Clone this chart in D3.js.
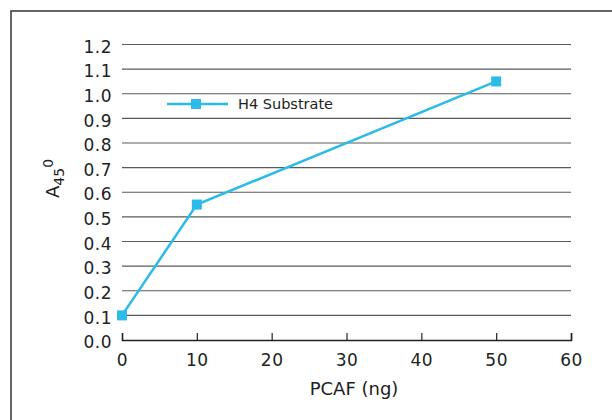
<!DOCTYPE html>
<html>
<head>
<meta charset="utf-8">
<script src="https://cdn.jsdelivr.net/npm/d3@7"></script>
<style>
  html, body { margin: 0; padding: 0; background: #fff; }
  svg { display: block; }
  text { font-family: "DejaVu Sans", "Liberation Sans", Arial, sans-serif; fill: #222; }
</style>
</head>
<body>
<svg id="chart" width="612" height="420"></svg>
<script>
const xValues = [0, 10, 50];
const yValues = [0.10, 0.55, 1.05];
const seriesName = "H4 Substrate";
const xTicks = [0, 10, 20, 30, 40, 50, 60];
const yTicks = [0.0, 0.1, 0.2, 0.3, 0.4, 0.5, 0.6, 0.7, 0.8, 0.9, 1.0, 1.1, 1.2];
const xTitle = "PCAF (ng)";

const svg = d3.select("#chart");
const color = "#2bbbe8";

// frame
svg.append("rect").attr("x", 11).attr("y", 11).attr("width", 700).attr("height", 500)
  .attr("fill", "none").attr("stroke", "#333").attr("stroke-width", 1.5);

const x = d3.scaleLinear().domain([0, 60]).range([122, 571]);
const y = d3.scaleLinear().domain([0, 1.2]).range([340, 44.5]);

// gridlines
svg.append("g").selectAll("line").data(yTicks.filter(d => d > 0)).join("line")
  .attr("x1", x(0)).attr("x2", x(60))
  .attr("y1", d => y(d)).attr("y2", d => y(d))
  .attr("stroke", "#5a5a5a").attr("stroke-width", 1.2);

// x axis
const xAxis = d3.axisBottom(x).tickValues(xTicks).tickSize(-7).tickPadding(14)
  .tickFormat(d3.format("d"));
const gx = svg.append("g").attr("transform", `translate(0,${y(0)})`).call(xAxis);
gx.select(".domain").attr("stroke", "#222").attr("stroke-width", 1.6);
gx.selectAll(".tick line").attr("stroke", "#222").attr("stroke-width", 1.2)
  .filter(d => d === 0).remove();
gx.selectAll(".tick text").attr("font-size", 17).attr("fill", "#222")
  .attr("font-family", "DejaVu Sans, sans-serif").attr("letter-spacing", "0.5px");

// y axis labels
const yAxis = d3.axisLeft(y).tickValues(yTicks).tickSize(0).tickPadding(10)
  .tickFormat(d3.format(".1f"));
const gy = svg.append("g").attr("transform", `translate(${x(0)},0)`).call(yAxis);
gy.select(".domain").remove();
gy.selectAll(".tick text").attr("font-size", 17).attr("fill", "#222")
  .attr("font-family", "DejaVu Sans, sans-serif").attr("letter-spacing", "0.5px")
  .attr("dy", "0.45em");

// x title
svg.append("text").attr("x", 354).attr("y", 395).attr("text-anchor", "middle")
  .attr("font-size", 18).text(xTitle);

// y title
const yt = svg.append("text").attr("transform", "translate(59,198) rotate(-90)")
  .attr("font-size", 18);
yt.append("tspan").text("A");
yt.append("tspan").attr("font-size", 14).attr("dy", 5).text("45");
yt.append("tspan").attr("font-size", 14).attr("dy", -11).text("0");

// series line
const data = xValues.map((v, i) => ({ x: v, y: yValues[i] }));
svg.append("path").datum(data)
  .attr("fill", "none").attr("stroke", color).attr("stroke-width", 2.5)
  .attr("d", d3.line().x(d => x(d.x)).y(d => y(d.y)));
svg.append("g").selectAll("rect").data(data).join("rect")
  .attr("x", d => x(d.x) - 5).attr("y", d => y(d.y) - 5)
  .attr("width", 10).attr("height", 10).attr("fill", color);

// legend
const lg = svg.append("g");
lg.append("line").attr("x1", 167).attr("x2", 228).attr("y1", 104).attr("y2", 104)
  .attr("stroke", color).attr("stroke-width", 2.5);
lg.append("rect").attr("x", 191).attr("y", 99).attr("width", 10).attr("height", 10).attr("fill", color);
lg.append("text").attr("x", 238).attr("y", 109).attr("font-size", 14.5).text(seriesName);
</script>
</body>
</html>
